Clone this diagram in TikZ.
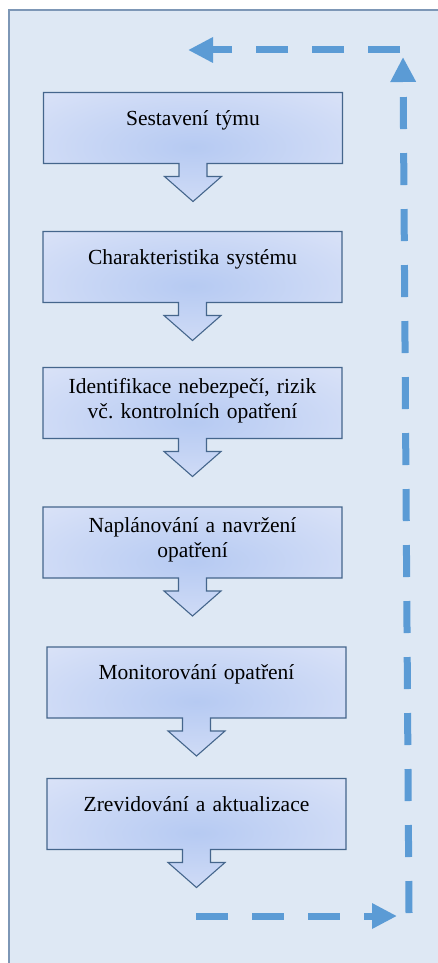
\documentclass[tikz,border=0pt]{standalone}
\usepackage{fontspec}
\setmainfont{Liberation Serif}
\usepackage{tikz}
\usetikzlibrary{arrows.meta, calc, backgrounds}

\definecolor{pagefill}{HTML}{DEE8F4}
\definecolor{pageedge}{HTML}{7D97B6}
\definecolor{stepmid}{HTML}{B6CAF2}
\definecolor{stepedge}{HTML}{E8ECFA}
\definecolor{stepline}{HTML}{45668C}
\definecolor{loopblue}{HTML}{5B9BD5}

\pgfdeclareradialshading{stepglow}{\pgfpoint{0bp}{0bp}}{color(0bp)=(stepmid); color(50bp)=(stepedge)}

\frenchspacing

\begin{document}
\begin{tikzpicture}[x=1pt, y=-1pt,
      stepbox/.style={minimum width=299pt, minimum height=71pt, inner sep=0pt, outer sep=0pt,
        text width=284pt, align=center, text height=15pt, font=\fontsize{21.5}{25}\selectfont},
      callout/.style={shade, shading=stepglow, draw=stepline, line width=1.1pt, line join=miter},
      pageedge/.style={draw=pageedge, line width=1.5pt},
      loopline/.style={draw=loopblue, line width=7pt, dash pattern=on 32pt off 24pt,
        -{Triangle[length=25pt, width=24pt]}}]

      \useasboundingbox (0,0) rectangle (438,963);

% s1
      \node[stepbox, text depth=21pt] (s1) at (193,128) {Sestavení týmu};

% s2
      \node[stepbox, text depth=21pt] (s2) at (192.5,267) {Charakteristika systému};

% s3
      \node[stepbox, text depth=35pt] (s3) at (192.5,403) {Identifikace nebezpečí, rizik\\ vč. kontrolních opatření};

% s4
      \node[stepbox, text depth=35pt] (s4) at (192.5,542.5) {Naplánování a navržení\\ opatření};

% s5
      \node[stepbox, text depth=21pt] (s5) at (196.5,682.5) {Monitorování opatření};

% s6
      \node[stepbox, text depth=21pt] (s6) at (196.5,814) {Zrevidování a aktualizace};

% frame and callout shapes
      \begin{scope}[on background layer]
        \fill[pagefill] (9,10) rectangle (438,963);
        \draw[pageedge] (9,963) -- (9,10) -- (438,10);
        \foreach \i in {1,...,6}
          \path[callout] (s\i.south west) -- (s\i.north west) -- (s\i.north east) -- (s\i.south east)
            -- ($(s\i.south)+(14,0)$) -- ++(0,13) -- ++(14.5,0) -- ($(s\i.south)+(0,38)$)
            -- ++(-28.5,-25) -- ++(14.5,0) -- ++(0,-13) -- cycle;
      \end{scope}

% loop back
      \coordinate (loopstart) at (196,916);
      \coordinate (loopend) at (397,916);
      \coordinate (risestart) at (409,913);
      \coordinate (riseend) at (403,57);
      \coordinate (backstart) at (400,50);
      \coordinate (backend) at (188,50);

      \draw[loopline] (loopstart) -- (loopend);
      \draw[loopline] (risestart) -- (riseend);
      \draw[loopline] (backstart) -- (backend);

    \end{tikzpicture}
\end{document}
